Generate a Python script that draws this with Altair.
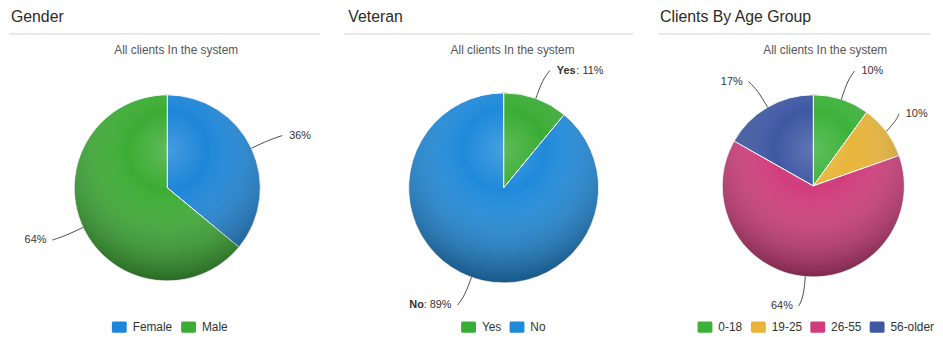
import altair as alt
import pandas as pd

# ---------------- data ----------------
titles = ["Gender", "Veteran", "Clients By Age Group"]
subtitle = "All clients In the system"

gender_cats = ["Female", "Male"]
gender_vals = [36, 64]

veteran_cats = ["Yes", "No"]
veteran_vals = [11, 89]

age_cats = ["0-18", "19-25", "26-55", "56-older"]
age_vals = [10.0, 9.6, 63.6, 16.8]

# ---------------- styles ----------------
FONT = "Liberation Sans"
gender_colors = ["#1e86d8", "#3cac34"]
veteran_colors = ["#3aad35", "#1f8ada"]
age_colors = ["#3cb23a", "#e8b53a", "#d03c7c", "#3e58a4"]

SYMBOL = ("M-1,-0.55 Q-1,-0.75 -0.8,-0.75 L0.8,-0.75 Q1,-0.75 1,-0.55 "
          "L1,0.55 Q1,0.75 0.8,0.75 L-0.8,0.75 Q-1,0.75 -1,0.55 Z")

H = 321


def panel(title, cats, vals, colors, W, cx, cy, R, tx, sx, lx, ly, show_name):
    df = pd.DataFrame({"cat": cats, "v": vals, "idx": list(range(len(cats)))})
    one = pd.DataFrame({"t": [title], "s": [subtitle]})
    xs = alt.Scale(domain=[-cx, W - cx], nice=False, zero=False)
    ys = alt.Scale(domain=[cy - H, cy], nice=False, zero=False)
    X0 = alt.XDatum(0, type="quantitative", scale=xs, axis=None)
    Y0 = alt.YDatum(0, type="quantitative", scale=ys, axis=None)

    pct_expr = ("': ' + " if show_name else "") + "format(datum.v, '.0f') + '%'"
    nw = "length(datum.cat) * 6.6" if show_name else "0"

    base = (
        alt.Chart(df)
        .transform_joinaggregate(total="sum(v)")
        .transform_window(cum="sum(v)", sort=[alt.SortField("idx")])
        .transform_calculate(
            s="(datum.cum - datum.v) / datum.total",
            e="datum.cum / datum.total",
            a="2 * PI * (datum.cum - datum.v / 2) / datum.total",
            pct=pct_expr,
            nw=nw,
        )
        .transform_calculate(
            sd="sin(datum.a) >= 0 ? 1 : -1",
            pw="length(datum.pct) * 5.6",
            lim=f"{W - cx - 2} - length(datum.pct) * 7.5 - datum.nw",
        )
        .transform_calculate(ax=f"{R + 30} * sin(datum.a) + 4 * datum.sd")
        .transform_calculate(xs_r="min(datum.ax + 7, datum.lim)")
        .transform_calculate(
            endx="datum.sd > 0 ? min(datum.ax, datum.xs_r - 7) : datum.ax"
        )
    )

    hdr = alt.Chart(one).mark_text(
        align="left", baseline="alphabetic", fontSize=16, color="#2a2a2a",
        font=FONT, clip=True
    ).encode(text="t:N", x=alt.value(tx), y=alt.value(12))
    rule = alt.Chart(one).mark_rule(color="#d0d0d0", strokeWidth=1).encode(
        x=alt.value(0), x2=alt.value(W), y=alt.value(24.5)
    )
    sub = alt.Chart(one).mark_text(
        align="center", baseline="alphabetic", fontSize=12, color="#555555", font=FONT
    ).encode(text="s:N", x=alt.value(sx), y=alt.value(44.5))

    pie = base.mark_arc(radius=R, stroke="#ffffff", strokeWidth=1).encode(
        theta=alt.Theta("s:Q", scale=alt.Scale(domain=[0, 1]), stack=False),
        theta2="e:Q",
        color=alt.Color(
            "cat:N",
            scale=alt.Scale(domain=cats, range=colors),
            title=None,
            legend=alt.Legend(
                orient="none", legendX=lx, legendY=ly, direction="horizontal",
                symbolType=SYMBOL, symbolSize=225, symbolStrokeWidth=0,
                labelFont=FONT, labelFontSize=12, labelColor="#333333",
                columnPadding=8, labelOffset=6,
            ),
        ),
        order=alt.Order("idx:Q"),
        x=X0,
        y=Y0,
    )

    shade = alt.Chart(one).mark_arc(
        radius=R,
        fill=alt.RadialGradient(
            gradient="radial",
            stops=[
                alt.GradientStop(color="rgba(255,255,255,0.18)", offset=0),
                alt.GradientStop(color="rgba(255,255,255,0)", offset=0.3),
                alt.GradientStop(color="rgba(0,0,0,0.42)", offset=1),
            ],
            x1=0.5, y1=0.3, r1=0, x2=0.5, y2=0.3, r2=0.72,
        ),
    ).encode(theta=alt.value(0), theta2=alt.value(6.2832), x=X0, y=Y0)

    lines = (
        base.transform_calculate(pts="[0, 1, 2]")
        .transform_flatten(["pts"])
        .transform_calculate(
            rr=f"datum.pts == 0 ? {R} : (datum.pts == 1 ? {R + 20} : {R + 30})"
        )
        .transform_calculate(
            px0="datum.rr * sin(datum.a)",
            py="datum.rr * cos(datum.a)",
        )
        .transform_calculate(
            px=(
                "datum.pts == 2 ? datum.endx : "
                "(datum.pts == 1 && datum.sd > 0 ? min(datum.px0, datum.endx - 2) : datum.px0)"
            )
        )
        .mark_line(interpolate="basis", color="#4a4a4a", strokeWidth=1)
        .encode(
            x=alt.X("px:Q", scale=xs, axis=None),
            y=alt.Y("py:Q", scale=ys, axis=None),
            detail="cat:N",
            order="pts:Q",
        )
    )

    lab = base.transform_calculate(
        py=f"{R + 30} * cos(datum.a)",
        xr_pct="datum.xs_r + datum.nw",
        xr_name="datum.xs_r",
        xl_pct="datum.ax - 6",
        xl_name="datum.ax - 6 - datum.pw",
    )
    right = lab.transform_filter("datum.sd > 0")
    left = lab.transform_filter("datum.sd < 0")
    tstyle = dict(baseline="middle", fontSize=11, color="#333333", font=FONT, clip=True)
    Yt = alt.Y("py:Q", scale=ys, axis=None)
    texts = [
        right.mark_text(align="left", **tstyle).encode(
            x=alt.X("xr_pct:Q", scale=xs, axis=None), y=Yt, text="pct:N"),
        left.mark_text(align="right", **tstyle).encode(
            x=alt.X("xl_pct:Q", scale=xs, axis=None), y=Yt, text="pct:N"),
    ]
    if show_name:
        texts += [
            right.mark_text(align="left", fontWeight="bold", **tstyle).encode(
                x=alt.X("xr_name:Q", scale=xs, axis=None), y=Yt, text="cat:N"),
            left.mark_text(align="right", fontWeight="bold", **tstyle).encode(
                x=alt.X("xl_name:Q", scale=xs, axis=None), y=Yt, text="cat:N"),
        ]

    return alt.layer(rule, hdr, sub, pie, shade, lines, *texts).properties(
        width=W, height=H
    )


p1 = panel(titles[0], gender_cats, gender_vals, gender_colors,
           W=314, cx=160, cy=180, R=94, tx=2, sx=169, lx=104, ly=313, show_name=False)
p2 = panel(titles[1], veteran_cats, veteran_vals, veteran_colors,
           W=292, cx=161, cy=180, R=96, tx=4, sx=170, lx=118, ly=313, show_name=True)
p3 = panel(titles[2], age_cats, age_vals, age_colors,
           W=275, cx=157, cy=178, R=92, tx=2, sx=169, lx=40, ly=313, show_name=False)

chart = (
    alt.hconcat(p1, p2, p3, spacing=23)
    .resolve_scale(color="independent", x="independent", y="independent")
    .resolve_legend(color="independent")
    .properties(padding=0)
    .configure(font=FONT)
    .configure_view(stroke="transparent", strokeWidth=0)
)

chart.save("out.html", embed_options={"renderer": "svg", "actions": False})
